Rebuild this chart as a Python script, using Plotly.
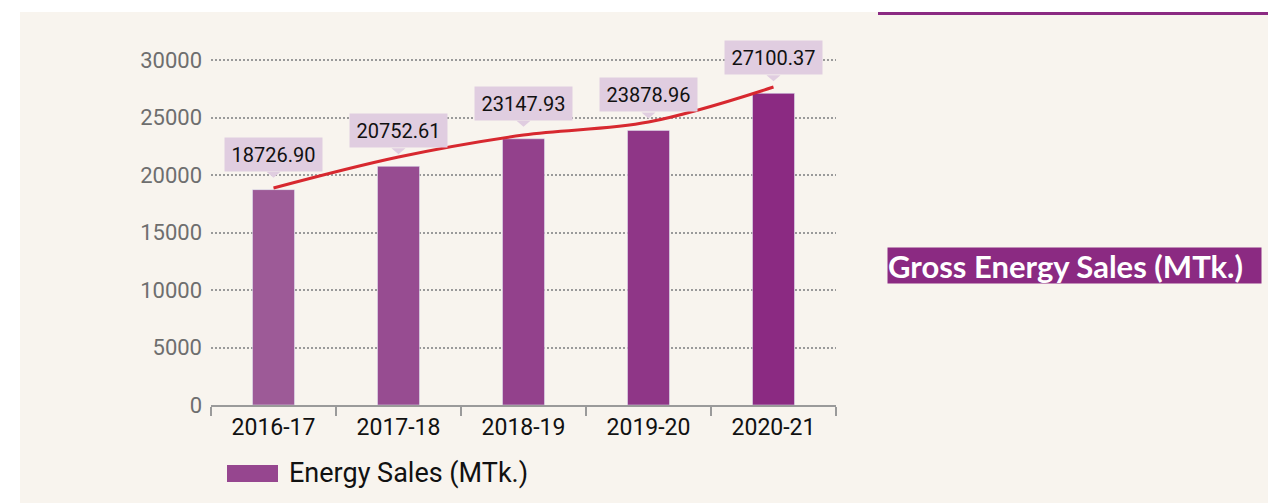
import plotly.graph_objects as go

# ---- data ----
years = ["2016-17", "2017-18", "2018-19", "2019-20", "2020-21"]
energy_sales = [18726.90, 20752.61, 23147.93, 23878.96, 27100.37]
trend_line = [18870, 21565, 23478, 24609, 27652]
y_ticks = [0, 5000, 10000, 15000, 20000, 25000, 30000]

bar_colors = ["#9d5a97", "#974c91", "#93418c", "#8f3687", "#8b2a82"]
FONT = "Roboto, Liberation Sans, sans-serif"
CREAM = "#f8f4ee"
PURPLE = "#8b2a82"
LABEL_BG = "#e0cde0"

W, H = 1274, 503
L, R, T, B = 211, 836, 55, 405  # plot area in pixels
Y_MAX = 30435  # 30000 lands at y=60px


def px(x):
    return (x - L) / (R - L)


def py(y):
    return (B - y) / (B - T)


fig = go.Figure()
fig.add_trace(go.Bar(x=years, y=energy_sales, marker_color=bar_colors,
                     width=0.336, showlegend=False, hoverinfo="x+y"))
fig.add_trace(go.Scatter(x=years, y=trend_line, mode="lines",
                         line=dict(color="#d7282f", width=3, shape="spline"),
                         showlegend=False, hoverinfo="skip"))

shapes = [
    # cream background panel
    dict(type="rect", xref="paper", yref="paper", x0=px(20), x1=px(1268),
         y0=py(12), y1=py(503), fillcolor=CREAM, line_width=0, layer="below"),
    # top purple rule
    dict(type="rect", xref="paper", yref="paper", x0=px(878), x1=px(1268),
         y0=py(15), y1=py(12), fillcolor=PURPLE, line_width=0, layer="above"),
    # legend swatch
    dict(type="rect", xref="paper", yref="paper", x0=px(227), x1=px(278),
         y0=py(482), y1=py(465), fillcolor="#96468f", line_width=0),
]

annotations = []
for cat, v in zip(years, energy_sales):
    annotations.append(dict(
        x=cat, y=v, xref="x", yref="y", text=f"{v:.2f}", showarrow=False,
        yanchor="bottom", yshift=18, width=97, height=33, borderpad=0,
        bgcolor=LABEL_BG, font=dict(family=FONT, size=20, color="#111111")))
    shapes.append(dict(
        type="path", xref="x", yref="y", xsizemode="pixel", ysizemode="pixel",
        xanchor=cat, yanchor=v, path="M -7,18 L 7,18 L 0,12 Z",
        fillcolor=LABEL_BG, line_width=0))

annotations.append(dict(
    x=px(287), y=py(473), xref="paper", yref="paper", text="Energy Sales (MTk.)",
    showarrow=False, xanchor="left", yanchor="middle",
    font=dict(family=FONT, size=27, color="#111111")))
annotations.append(dict(
    x=px(887), y=py(265.5), xref="paper", yref="paper",
    text="Gross Energy Sales (MTk.)", showarrow=False, xanchor="left",
    yanchor="middle", width=373, height=35, align="left", borderpad=0,
    bgcolor=PURPLE, font=dict(family="Lato, Open Sans, sans-serif", size=31,
                              color="white", weight=700)))

fig.update_layout(
    width=W, height=H,
    margin=dict(l=L, r=W - R, t=T, b=H - B, pad=0, autoexpand=False),
    paper_bgcolor="white", plot_bgcolor="rgba(0,0,0,0)",
    shapes=shapes, annotations=annotations, showlegend=False,
    xaxis=dict(type="category", showgrid=False, showline=True,
               linecolor="#9a9a9a", linewidth=2, ticks="outside",
               tickson="boundaries", ticklen=9, tickwidth=2,
               tickcolor="#9a9a9a",
               tickfont=dict(family=FONT, size=23, color="#111111"),
               range=[-0.5, 4.5]),
    yaxis=dict(range=[0, Y_MAX], tickvals=y_ticks, tickformat="d",
               showgrid=True, gridcolor="#9a9a9a", gridwidth=2,
               griddash="2px,2px", zeroline=False, showline=False, ticks="",
               ticklabelstandoff=8,
               tickfont=dict(family=FONT, size=22, color="#6e6e6e")),
)

fig.write_html("out.html", config={"displayModeBar": False},
               post_script="document.body.style.margin='0';")
